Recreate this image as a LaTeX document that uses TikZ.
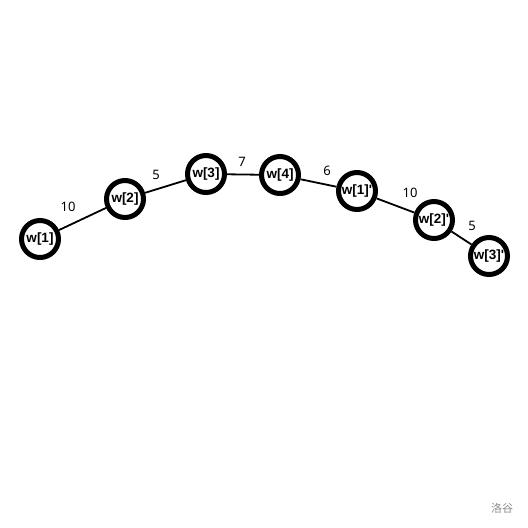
\documentclass[tikz,border=0pt]{standalone}
\usepackage{fontspec}
\setmainfont{Noto Sans}
\newfontfamily\nodefont{Liberation Sans}
\newfontfamily\cjk{Noto Sans CJK SC}
\begin{document}
\begin{tikzpicture}[x=1pt, y=-1pt,
  vertex/.style={circle, draw, line width=5pt, minimum size=37pt, inner sep=0pt, font=\nodefont\bfseries\fontsize{13.5}{13.5}\selectfont},
  weight/.style={font=\fontsize{13}{13}\selectfont},
  edge/.style={line width=1.8pt}]
\useasboundingbox (0,0) rectangle (528,528);
\node(wa)[vertex]  at ( 40, 239) {w[1]};
\node(wb)[vertex]  at (125, 199) {w[2]};
\node(wc)[vertex]  at (206, 174) {w[3]};
\node(wd)[vertex]  at (280, 175) {w[4]};
\node(wap)[vertex] at (357, 191) {w[1]'};
\node(wbp)[vertex] at (434, 220) {w[2]'};
\node(wcp)[vertex] at (489, 256) {w[3]'};

\draw[edge] (wa) -- (wb);
\draw[edge] (wb) -- (wc);
\draw[edge] (wc) -- (wd);
\draw[edge] (wd) -- (wap);
\draw[edge] (wap) -- (wbp);
\draw[edge] (wbp) -- (wcp);

\node(la)[weight] at ( 68, 207) {10};
\node(lb)[weight] at (156, 175) {5};
\node(lc)[weight] at (242, 162) {7};
\node(ld)[weight] at (327, 171) {6};
\node(le)[weight] at (410, 193) {10};
\node(lf)[weight] at (472, 226) {5};

\node(mark)[text=black!45, font=\cjk\fontsize{11}{11}\selectfont] at (502, 508) {洛谷};

\end{tikzpicture}
\end{document}
